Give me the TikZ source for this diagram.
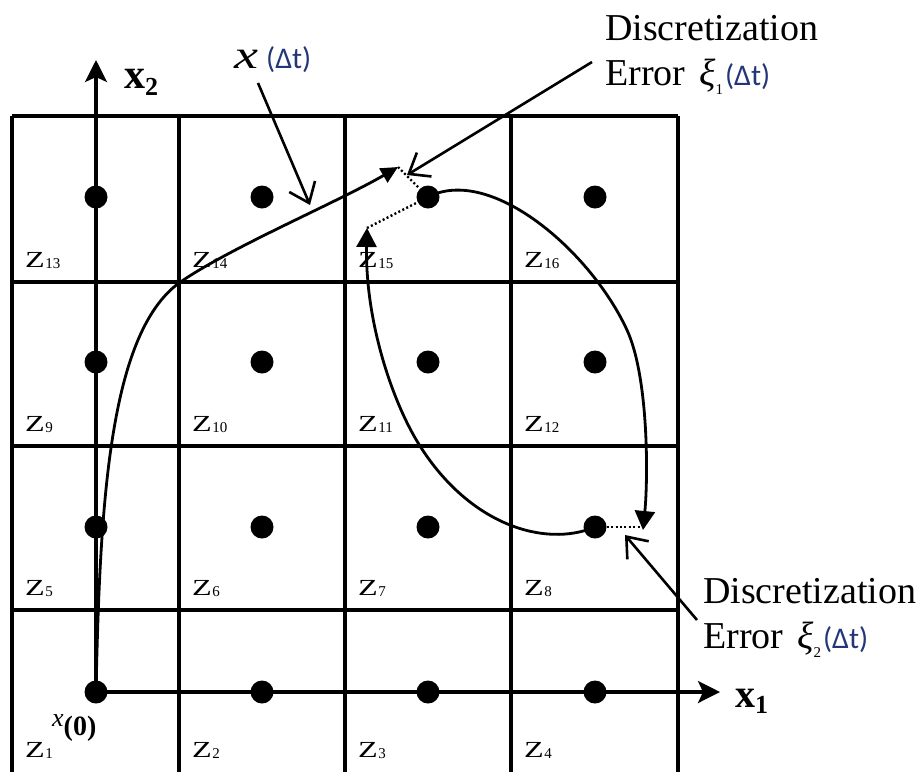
\documentclass[tikz,border=0pt]{standalone}
\usepackage{fontspec}
\setmainfont{Liberation Serif}
\newfontfamily\carl{Carlito}
\usetikzlibrary{arrows.meta}
\definecolor{dtblue}{RGB}{35,55,120}
\newcommand{\zlab}[1]{\fontsize{23}{23}\selectfont\scalebox{1.4}[1]{Z}\hspace{0.5pt}\raisebox{-1.5pt}{\fontsize{15}{15}\selectfont #1}}
\newcommand{\dtt}{{\carl\fontsize{30}{30}\selectfont\color{dtblue}(Δt)}}
\newcommand{\bigtxt}{\fontsize{38}{38}\selectfont}
\newcommand{\xisub}[1]{{\fontsize{38}{38}\selectfont\itshape ξ}\raisebox{-9pt}{\fontsize{15}{15}\selectfont #1}\hspace{2pt}}
\begin{document}
\begin{tikzpicture}[x=1pt,y=-1pt,
  gridline/.style={line width=3.2pt},
  traj/.style={line width=2.8pt},
  dotline/.style={line width=2.4pt, dash pattern=on 2pt off 2.4pt},
  ann/.style={line width=2.6pt, -{Straight Barb[length=18pt,width=28pt]}},
  axis/.style={line width=3.2pt, -{Stealth[length=22pt,width=22pt,inset=5pt]}},
  tri/.style={-{Triangle[length=19pt,width=20pt]}},
  dotn/.style={circle, fill, inner sep=0pt, minimum size=23pt},
  lab/.style={anchor=base west, inner sep=0pt}]
\useasboundingbox (0,0) rectangle (920,772);
% grid
\foreach \y in {116,282,446,610} \draw[gridline] (12,\y) -- (678,\y);
\foreach \x in {12,179,345,511,678} \draw[gridline] (\x,116) -- (\x,772);
% dots
\foreach \c [count=\i from 0] in {96,262,428,595} {
  \foreach \r [count=\j from 0] in {692,527,362,197} {
    \pgfmathtruncatemacro\n{\j*4+\i+1}
    \node[dotn] (d\n) at (\c,\r) {};
  }
}
% zone labels
\foreach \c [count=\i from 0] in {12,179,345,511} {
  \foreach \b [count=\j from 0] in {757,595,431,267} {
    \pgfmathtruncatemacro\n{\j*4+\i+1}
    \node[lab] (z\n) at (\c+13,\b) {\zlab{\n}};
  }
}
% axes
\coordinate (x2tip) at (96,60);
\coordinate (x1tip) at (720,692);
\draw[axis] (d1.center) -- (x2tip);
\draw[axis] (d1.center) -- (x1tip);
\node[lab] (x2lab) at (124,88) {\fontsize{42}{42}\selectfont\bfseries x\raisebox{-7pt}{\fontsize{26}{26}\selectfont 2}};
\node[lab] (x1lab) at (735,707) {\fontsize{40}{40}\selectfont\bfseries x\raisebox{-6pt}{\fontsize{26}{26}\selectfont 1}};
\node[lab] (x0lab) at (52,735) {\raisebox{9pt}{\fontsize{26}{26}\selectfont\itshape x}\fontsize{28}{28}\selectfont\bfseries(0)};
% trajectory 1
\coordinate (p1) at (398,167);
\draw[traj, -{Triangle[length=17pt,width=16pt]}] (d1.center) .. controls (100,510) and (108,335) .. (179,283)
  .. controls (229,248) and (338,202) .. (p1);
\draw[dotline] (p1) -- (d15);
% loop
\coordinate (p2) at (643,530);
\draw[traj, tri] (d15.center) .. controls (490,165) and (590,250) .. (627,330)
  .. controls (649,378) and (648,480) .. (p2);
\coordinate (q2) at (641,527);
\draw[dotline] (d8) -- (q2);
\coordinate (p3) at (367,228);
\draw[traj, tri] (d8.center) .. controls (545,548) and (470,525) .. (420,446)
  .. controls (392,402) and (365,320) .. (p3);
\draw[dotline] (p3) -- (d15);
% annotations
\node[lab] (lx) at (234,68) {\scalebox{1.35}[1]{\fontsize{40}{40}\selectfont\itshape x}\hspace{8pt}\dtt};
\coordinate (a1s) at (258,83);
\coordinate (a1e) at (310,205);
\draw[ann] (a1s) -- (a1e);
\node[lab] (e1a) at (605,40) {\bigtxt Discretization};
\node[lab] (e1b) at (605,85) {\bigtxt Error\hspace{14pt}\xisub{1}\dtt};
\coordinate (a2s) at (592,62);
\coordinate (a2e) at (407,175);
\draw[ann] (a2s) -- (a2e);
\node[lab] (e2a) at (703,603) {\bigtxt Discretization};
\node[lab] (e2b) at (703,648) {\bigtxt Error\hspace{14pt}\xisub{2}\dtt};
\coordinate (a3s) at (697,620);
\coordinate (a3e) at (625,535);
\draw[ann] (a3s) -- (a3e);
\end{tikzpicture}
\end{document}
